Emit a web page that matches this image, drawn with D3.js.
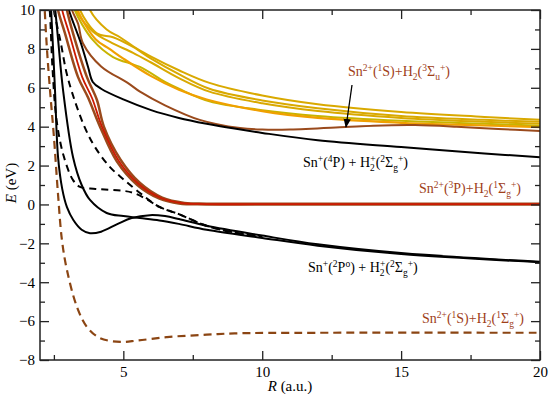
<!DOCTYPE html>
<html><head><meta charset="utf-8">
<script src="https://cdn.jsdelivr.net/npm/d3@7/dist/d3.min.js"></script>
<style>body{margin:0;background:#fff}svg{display:block}
svg text{font-family:"Liberation Serif","DejaVu Serif",serif !important;}</style>
</head><body><svg id="c" width="550" height="394"></svg>
<script>
// ---- tick values ----
const xTicks = [5, 10, 15, 20];
const xMinor = [2.5, 7.5, 12.5, 17.5];
const yTicks = [-8, -6, -4, -2, 0, 2, 4, 6, 8, 10];
const yMinor = [-7, -5, -3, -1, 1, 3, 5, 7, 9];

// ---- potential curves [R (a.u.), E (eV)] ----
const gold1 = [[3.7,10.6],[3.8,10],[4.4,9.0],[4.88,8.6],[5.5,8.0],[6,7.6],[7,6.9],[8.1,6.25],[10,5.6],[12,5.15],[15,4.75],[18,4.5],[20,4.35]];
const gold2 = [[3.35,10.6],[3.44,10],[4.05,8.8],[4.63,8.6],[5.35,8.1],[6,7.5],[7,6.7],[8.1,5.95],[10,5.35],[12,4.95],[15,4.55],[18,4.35],[20,4.25]];
const gold3 = [[3.2,10.6],[3.3,10],[3.9,8.9],[4.6,8.3],[5.35,7.8],[6,7.3],[7,6.5],[8.1,5.8],[10,5.2],[12,4.8],[15,4.45],[18,4.25],[20,4.15]];
const gold4 = [[3.15,10.6],[3.25,10],[3.9,8.46],[4.63,7.58],[5.6,7.07],[6.5,6.3],[7,5.95],[8.1,5.3],[10,4.85],[12,4.55],[15,4.3],[18,4.15],[20,4.05]];
const orange1 = [[3.25,10.6],[3.35,10],[4,8.5],[4.5,8.0],[5,7.5],[6,6.6],[7,5.9],[8,5.4],[10,4.8],[12,4.45],[15,4.2],[17,4.1],[20,3.98]];
const brownS3 = [[3.05,10.6],[3.15,10],[3.37,9.3],[3.55,8.28],[4.2,7.1],[5.17,6.24],[5.6,5.8],[6.5,5.1],[7.75,4.35],[9.2,3.93],[10,3.85],[11,3.85],[13,3.98],[14,4.05],[15.5,4.08],[17,4.0],[18.5,3.88],[20,3.78]];
const snP4 = [[2.95,10.6],[3.04,10],[3.47,8.3],[3.73,7.07],[3.9,6.3],[4.2,5.95],[5,5.4],[6,4.85],[7,4.45],[8,4.15],[9,3.9],[10,3.68],[12,3.3],[15,2.95],[18,2.62],[20,2.43]];
const thick1 = [[2.6,10.6],[2.65,10],[2.9,8.8],[3.37,6.55],[3.73,5.5],[4.16,4.0],[4.77,2.2],[5.5,1.0],[6.3,0.3],[7,0.05],[8,0],[12,0],[20,0]];
const thick2 = [[2.75,10.6],[2.8,10],[3.05,8.8],[3.52,6.55],[3.88,5.45],[4.23,4.0],[4.83,2.25],[5.55,1.05],[6.35,0.33],[7.1,0.07],[8,0.02],[12,0.02],[20,0.02]];
const thick3 = [[2.9,10.6],[2.97,10],[3.19,8.8],[3.69,6.55],[4.05,5.37],[4.3,4.0],[4.9,2.3],[5.6,1.1],[6.4,0.35],[7.2,0.08],[8,0.04],[12,0.04],[20,0.04]];
const dashA = [[2.3,10.6],[2.35,10],[2.45,7],[2.6,4.3],[2.85,2.5],[3.19,1.25],[3.44,0.9],[4,0.8],[5,0.7],[5.35,0.6],[5.8,0.3],[6.3,-0.13],[7,-0.5],[8,-1.1],[9,-1.45],[10,-1.68]];
const dashB = [[2.45,10.6],[2.5,10],[2.75,8.3],[2.95,6.8],[3.19,5.6],[3.6,4.0],[3.98,2.95],[4.52,1.92],[5.0,1.3],[5.6,0.59],[6.3,-0.13],[7,-0.5],[8,-1.1],[9,-1.45],[10,-1.68]];
const snP2a = [[2.37,10.6],[2.4,10],[2.47,8],[2.54,5.88],[2.65,2.43],[2.8,0.8],[2.97,-0.14],[3.2,-0.8],[3.5,-1.3],[3.8,-1.48],[4.2,-1.4],[4.8,-1.0],[5.3,-0.7],[5.96,-0.55],[6.5,-0.6],[7,-0.75],[8,-1.1],[10,-1.6],[12,-2.05],[15,-2.5],[20,-2.95]];
const snP2b = [[2.5,10.6],[2.55,10],[2.65,8.5],[2.83,5.88],[3.19,2.43],[3.5,1.0],[3.8,0.23],[4.4,-0.44],[5,-0.6],[5.6,-0.7],[6.3,-0.82],[7,-1.0],[8,-1.3],[10,-1.72],[12,-2.12],[15,-2.55],[20,-2.97]];
const dashS1 = [[2.15,10.6],[2.17,10],[2.25,8],[2.36,5.88],[2.5,3.5],[2.65,0.5],[2.79,-1.83],[2.97,-3.37],[3.33,-5.27],[3.69,-6.3],[4.16,-6.87],[4.9,-7.07],[5.5,-7.0],[6.57,-6.82],[8,-6.7],[9,-6.63],[12,-6.6],[20,-6.6]];

const svg = d3.select('#c');
const x = d3.scaleLinear().domain([2, 20]).range([40, 540]);
const y = d3.scaleLinear().domain([-8, 10]).range([360, 10]);
const serif = "Liberation Serif";

svg.append('defs').append('clipPath').attr('id','clip')
  .append('rect').attr('x',40).attr('y',10).attr('width',500).attr('height',350);
const g = svg.append('g').attr('clip-path','url(#clip)');

const line = d3.line().x(d=>x(d[0])).y(d=>y(d[1])).curve(d3.curveCatmullRom.alpha(0.5));
function draw(data, color, w, dash){
  const p = g.append('path').attr('d', line(data)).attr('fill','none')
    .attr('stroke', color).attr('stroke-width', w).attr('stroke-linejoin','round');
  if (dash) p.attr('stroke-dasharray', dash);
}
const GOLD = '#d9a900', ORANGE = '#f0a000', BROWN = '#9a4a1c', RED = '#cc1a00';
draw(gold1, GOLD, 2);
draw(gold2, GOLD, 2);
draw(gold3, GOLD, 2);
draw(gold4, '#c8b400', 2);
draw(orange1, ORANGE, 2.2);
draw(brownS3, BROWN, 2);
draw(snP4, '#000', 2);
draw(thick1, BROWN, 2.5);
draw(thick3, BROWN, 2.5);
draw(thick2, RED, 1.8);
draw(dashA, '#000', 2, '7,5');
draw(dashB, '#000', 2, '7,5');
draw(snP2a, '#000', 2);
draw(snP2b, '#000', 2);
draw(dashS1, '#8b4513', 2.2, '8,5');

// ---- axes (ticks inside) ----
const axCol = '#222';
function styleAxis(sel){
  sel.attr('font-family', null);
  sel.select('.domain').remove();
  sel.selectAll('line').attr('stroke', axCol).attr('stroke-width',1.3);
  sel.selectAll('text').attr('font-size',15).attr('fill','#000');
}
svg.append('g').attr('transform','translate(0,360)')
  .call(d3.axisBottom(x).tickValues(xTicks).tickSize(-9).tickPadding(6).tickFormat(d3.format('d'))).call(styleAxis);
svg.append('g').attr('transform','translate(0,360)')
  .call(d3.axisBottom(x).tickValues(xMinor).tickSize(-5).tickFormat('')).call(styleAxis);
svg.append('g').attr('transform','translate(0,10)')
  .call(d3.axisTop(x).tickValues(xTicks).tickSize(-9).tickFormat('')).call(styleAxis);
svg.append('g').attr('transform','translate(0,10)')
  .call(d3.axisTop(x).tickValues(xMinor).tickSize(-5).tickFormat('')).call(styleAxis);
svg.append('g').attr('transform','translate(40,0)')
  .call(d3.axisLeft(y).tickValues(yTicks).tickSize(-9).tickPadding(5).tickFormat(d=>d<0?'\u2212'+Math.abs(d):d)).call(styleAxis);
svg.append('g').attr('transform','translate(40,0)')
  .call(d3.axisLeft(y).tickValues(yMinor).tickSize(-5).tickFormat('')).call(styleAxis);
svg.append('g').attr('transform','translate(540,0)')
  .call(d3.axisRight(y).tickValues(yTicks).tickSize(-9).tickFormat('')).call(styleAxis);
svg.append('g').attr('transform','translate(540,0)')
  .call(d3.axisRight(y).tickValues(yMinor).tickSize(-5).tickFormat('')).call(styleAxis);
svg.append('rect').attr('x',40).attr('y',10).attr('width',500).attr('height',350)
  .attr('fill','none').attr('stroke',axCol).attr('stroke-width',1.5);

// axis titles
const yt = svg.append('text').attr('transform','translate(16,183) rotate(-90)').attr('text-anchor','middle')
  .attr('font-size',15);
yt.append('tspan').style('font-style','italic').text('E');
yt.append('tspan').text(' (eV)');
const xt = svg.append('text').attr('x',290).attr('y',391).attr('text-anchor','middle')
  .attr('font-size',15);
xt.append('tspan').style('font-style','italic').text('R');
xt.append('tspan').text(' (a.u.)');

// ---- state labels ----
function label(x0, y0, parts, color){
  const t = svg.append('text').attr('x',x0).attr('y',y0).attr('fill',color)
    .attr('font-size',14);
  let cur = 0;
  parts.forEach(([s,k,dx])=>{
    const off = k==='sup' ? -5 : (k==='sub' ? 4 : 0);
    const ts = t.append('tspan').attr('dy', off-cur).attr('font-size', k==='n' ? 14 : 9.5).text(s);
    if (dx) ts.attr('dx', dx);
    cur = off;
  });
}
const LBL = '#a0401a';
label(348, 76, [['Sn','n'],['2+','sup'],['(','n'],['1','sup'],['S)+H','n'],['2','sub'],['(','n'],['3','sup'],['\u03A3','n'],['u','sub'],['+','sup'],[')','n']], LBL);
label(303, 167, [['Sn','n'],['+','sup'],['(','n'],['4','sup'],['P) + H','n'],['2','sub'],['+','sup',-4.5],['(','n'],['2','sup'],['\u03A3','n'],['g','sub'],['+','sup'],[')','n']], '#000');
label(419, 193, [['Sn','n'],['2+','sup'],['(','n'],['3','sup'],['P)+H','n'],['2','sub'],['(','n'],['1','sup'],['\u03A3','n'],['g','sub'],['+','sup'],[')','n']], LBL);
label(308, 272, [['Sn','n'],['+','sup'],['(','n'],['2','sup'],['P','n'],['o','sup'],[') + H','n'],['2','sub'],['+','sup',-4.5],['(','n'],['2','sup'],['\u03A3','n'],['g','sub'],['+','sup'],[')','n']], '#000');
label(422, 323, [['Sn','n'],['2+','sup'],['(','n'],['1','sup'],['S)+H','n'],['2','sub'],['(','n'],['1','sup'],['\u03A3','n'],['g','sub'],['+','sup'],[')','n']], LBL);

// arrow
svg.select('defs').append('marker').attr('id','ah').attr('viewBox','0 0 10 10').attr('refX',9).attr('refY',5)
  .attr('markerWidth',7).attr('markerHeight',7).attr('orient','auto')
  .append('path').attr('d','M0,1 L10,5 L0,9 z').attr('fill','#000');
svg.append('line').attr('x1',352).attr('y1',85).attr('x2',346).attr('y2',127)
  .attr('stroke','#000').attr('stroke-width',1.3).attr('marker-end','url(#ah)');
</script></body></html>
